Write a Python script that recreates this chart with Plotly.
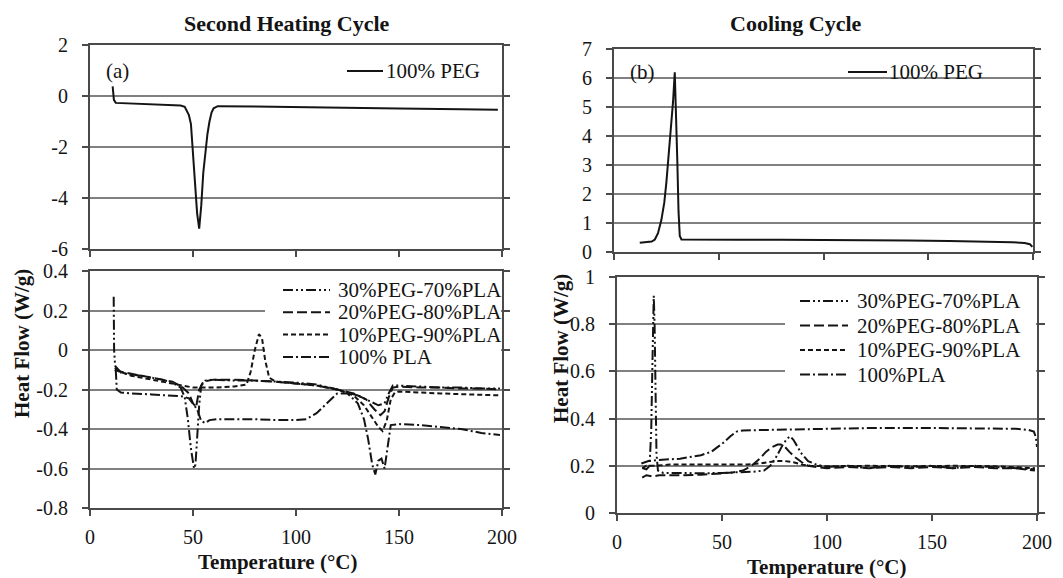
import plotly.graph_objects as go

# ---------------- data ----------------
# Second heating cycle, 100% PEG
heat_peg_x = [11, 11.6, 12.5, 20, 30, 40, 44, 46, 48, 49, 50, 51, 52, 53, 54, 55, 56, 57, 58, 59, 60, 62, 80, 100, 120, 150, 180, 198]
heat_peg_y = [0.38, -0.15, -0.27, -0.29, -0.32, -0.35, -0.37, -0.42, -0.75, -1.1, -2.2, -3.5, -4.6, -5.2, -4.3, -3.0, -2.1, -1.5, -1.0, -0.65, -0.48, -0.4, -0.41, -0.44, -0.46, -0.49, -0.52, -0.54]

# Second heating cycle, blends
h30_x = [11.5, 11.7, 12.2, 15, 20, 25, 30, 35, 40, 44, 46, 47.5, 49, 50.5, 51.2, 52, 53, 54, 56, 60, 70, 80, 90, 100, 110, 120, 130, 136, 140, 143, 145, 147, 150, 160, 170, 180, 190, 199]
h30_y = [0.27, 0.0, -0.08, -0.115, -0.125, -0.13, -0.14, -0.15, -0.165, -0.19, -0.24, -0.35, -0.5, -0.6, -0.58, -0.45, -0.28, -0.18, -0.155, -0.15, -0.155, -0.155, -0.16, -0.165, -0.175, -0.2, -0.23, -0.26, -0.28, -0.27, -0.22, -0.18, -0.18, -0.185, -0.19, -0.19, -0.195, -0.195]

h20_x = [12, 15, 20, 30, 40, 45, 48, 50, 51.5, 53, 55, 60, 70, 80, 90, 100, 110, 120, 128, 134, 138, 141, 143, 145, 147, 150, 160, 170, 180, 190, 199]
h20_y = [-0.09, -0.11, -0.12, -0.14, -0.16, -0.19, -0.22, -0.27, -0.29, -0.2, -0.16, -0.15, -0.15, -0.155, -0.16, -0.17, -0.18, -0.2, -0.22, -0.25, -0.3, -0.33, -0.31, -0.24, -0.19, -0.185, -0.19, -0.19, -0.195, -0.195, -0.2]

h10_x = [12, 20, 30, 40, 45, 50, 55, 60, 70, 76, 78, 80, 82, 83.5, 85, 87, 90, 100, 110, 120, 128, 133, 137, 140, 142, 144, 146, 148, 150, 170, 199]
h10_y = [-0.1, -0.13, -0.15, -0.17, -0.18, -0.19, -0.19, -0.19, -0.185, -0.175, -0.11, 0.0, 0.08, 0.06, -0.05, -0.14, -0.16, -0.17, -0.18, -0.2, -0.23, -0.28, -0.34, -0.39, -0.41, -0.36, -0.25, -0.215, -0.21, -0.22, -0.23]

h100_x = [12.5, 13, 15, 20, 30, 40, 45, 48, 50, 52, 54, 56, 58, 62, 70, 80, 90, 100, 105, 110, 115, 120, 125, 130, 133, 135, 137, 138.5, 140, 141.5, 143, 144.5, 146, 150, 160, 170, 180, 190, 199]
h100_y = [-0.1, -0.2, -0.215, -0.22, -0.225, -0.23, -0.235, -0.245, -0.27, -0.3, -0.36, -0.37, -0.355, -0.35, -0.35, -0.35, -0.355, -0.355, -0.35, -0.32, -0.27, -0.22, -0.22, -0.27, -0.35, -0.45, -0.58, -0.63, -0.56, -0.55, -0.6, -0.5, -0.38, -0.375, -0.38, -0.39, -0.4, -0.42, -0.43]

# Cooling cycle, 100% PEG
cool_peg_x = [12.3, 15, 18, 19.5, 21, 22.6, 24, 25, 26, 26.6, 27.4, 28.2, 29, 29.6, 30.2, 30.8, 31.4, 32.2, 40, 60, 80, 100, 120, 140, 160, 180, 190, 196, 198.5, 199.7]
cool_peg_y = [0.32, 0.33, 0.36, 0.43, 0.65, 1.1, 1.7, 2.4, 3.2, 3.75, 4.5, 5.2, 6.2, 5.0, 3.2, 1.4, 0.55, 0.43, 0.42, 0.42, 0.42, 0.42, 0.41, 0.4, 0.38, 0.36, 0.34, 0.31, 0.27, 0.18]

# Cooling cycle, blends
c30_x = [12, 14, 15.5, 16.3, 16.8, 17.2, 17.5, 17.9, 18.3, 18.8, 19.5, 22, 30, 40, 50, 60, 65, 70, 73, 76, 79, 81, 82.5, 84, 86, 88, 91, 95, 100, 110, 120, 130, 140, 150, 160, 170, 180, 190, 199]
c30_y = [0.19, 0.185, 0.2, 0.35, 0.6, 0.85, 0.92, 0.8, 0.5, 0.25, 0.18, 0.17, 0.17, 0.168, 0.17, 0.172, 0.175, 0.18, 0.2, 0.24, 0.29, 0.315, 0.325, 0.31, 0.28, 0.25, 0.22, 0.205, 0.195, 0.2, 0.19, 0.2, 0.195, 0.2, 0.19, 0.2, 0.195, 0.19, 0.185]

c20_x = [12, 14, 17, 20, 30, 40, 50, 55, 60, 64, 68, 71, 74, 76.5, 78, 80, 82, 85, 88, 91, 95, 100, 110, 120, 130, 140, 150, 160, 170, 180, 190, 199]
c20_y = [0.15, 0.16, 0.155, 0.16, 0.16, 0.162, 0.168, 0.172, 0.18, 0.2, 0.23, 0.26, 0.28, 0.29, 0.29, 0.28, 0.26, 0.235, 0.215, 0.2, 0.195, 0.19, 0.195, 0.19, 0.195, 0.19, 0.195, 0.19, 0.195, 0.19, 0.19, 0.18]

c10_x = [12, 14, 18, 25, 35, 45, 55, 62, 68, 72, 76, 80, 84, 88, 92, 100, 120, 140, 160, 180, 199]
c10_y = [0.19, 0.2, 0.2, 0.205, 0.205, 0.205, 0.205, 0.205, 0.21, 0.215, 0.22, 0.22, 0.215, 0.205, 0.2, 0.198, 0.2, 0.198, 0.2, 0.198, 0.19]

c100_x = [11.6, 15, 20, 30, 40, 45, 48, 51, 54, 57, 60, 70, 80, 100, 120, 150, 180, 190, 196, 198.5, 199.5, 200]
c100_y = [0.21, 0.22, 0.225, 0.23, 0.245, 0.26, 0.28, 0.3, 0.325, 0.345, 0.35, 0.352, 0.355, 0.357, 0.36, 0.36, 0.36, 0.357, 0.352, 0.345, 0.32, 0.28]

# tick labels
x_ticks = [0, 50, 100, 150, 200]
x_ticktext = ["0", "50", "100", "150", "200"]
y_ticks_a = [2, 0, -2, -4, -6]
y_ticktext_a = ["2", "0", "-2", "-4", "-6"]
y_ticks_c = [0.4, 0.2, 0, -0.2, -0.4, -0.6, -0.8]
y_ticktext_c = ["0.4", "0.2", "0", "-0.2", "-0.4", "-0.6", "-0.8"]
y_ticks_b = [0, 1, 2, 3, 4, 5, 6, 7]
y_ticktext_b = ["0", "1", "2", "3", "4", "5", "6", "7"]
y_ticks_d = [0, 0.2, 0.4, 0.6, 0.8, 1]
y_ticktext_d = ["0", "0.2", "0.4", "0.6", "0.8", "1"]

heat_names = ["30%PEG-70%PLA", "20%PEG-80%PLA", "10%PEG-90%PLA", "100% PLA"]
cool_names = ["30%PEG-70%PLA", "20%PEG-80%PLA", "10%PEG-90%PLA", "100%PLA"]
peg_name = "100% PEG"

# ---------------- styles ----------------
W, H = 1063, 578
FONT = "Liberation Serif, Tinos, 'Times New Roman', Times, 'DejaVu Serif', serif"
INK = "#141414"
GRID = "#808080"
AXIS = "#4a4a4a"
DASHES = ["10px,3px,2px,3px,2px,3px", "10px,4px", "5px,3px", "10px,3px,2px,3px"]

# plot-area pixel boxes (left, right, top, bottom)
BOX = {
    "a": (90, 502, 45, 249),
    "c": (90, 502, 271, 508),
    "b": (614, 1033, 49, 252),
    "d": (617, 1037, 277, 513),
}
RANGES = {"a": [-6, 2], "c": [-0.8, 0.4], "b": [0, 7], "d": [0, 1]}

def px_dom(a, b):
    return [a / W, b / W]

def py_dom(top, bottom):
    return [1 - bottom / H, 1 - top / H]

fig = go.Figure()

def line(x, y, name, dash, xa, ya):
    fig.add_trace(go.Scatter(
        x=x, y=y, name=name, mode="lines",
        line=dict(color=INK, width=2.0, dash=dash),
        xaxis=xa, yaxis=ya, showlegend=False,
    ))

line(heat_peg_x, heat_peg_y, peg_name, "solid", "x", "y")
for (xx, yy), nm, ds in zip([(h30_x, h30_y), (h20_x, h20_y), (h10_x, h10_y), (h100_x, h100_y)], heat_names, DASHES):
    line(xx, yy, nm, ds, "x2", "y2")
line(cool_peg_x, cool_peg_y, peg_name, "solid", "x3", "y3")
for (xx, yy), nm, ds in zip([(c30_x, c30_y), (c20_x, c20_y), (c10_x, c10_y), (c100_x, c100_y)], cool_names, DASHES):
    line(xx, yy, nm, ds, "x4", "y4")

tickfont = dict(family=FONT, size=20, color=INK)

def xax(key, anchor, labels):
    l, r, t, b = BOX[key]
    return dict(domain=px_dom(l, r), anchor=anchor, range=[0, 200], tickvals=x_ticks, ticktext=x_ticktext,
                showticklabels=labels, ticks="outside", ticklen=6, tickwidth=1.5, tickcolor=AXIS,
                showline=True, linecolor=AXIS, linewidth=2, mirror=True, showgrid=False,
                zeroline=False, tickfont=tickfont, ticklabelstandoff=4, automargin=False)

def yax(key, anchor, tv, tt):
    l, r, t, b = BOX[key]
    return dict(domain=py_dom(t, b), anchor=anchor, range=RANGES[key], tickvals=tv, ticktext=tt,
                ticks="outside", ticklen=6, tickwidth=1.5, tickcolor=AXIS,
                showline=True, linecolor=AXIS, linewidth=2, mirror="ticks",
                showgrid=True, gridcolor=GRID, gridwidth=1.6, zeroline=False,
                tickfont=tickfont, ticklabelstandoff=10, automargin=False)

fig.update_layout(
    width=W, height=H,
    margin=dict(l=0, r=0, t=0, b=0, pad=0, autoexpand=False),
    paper_bgcolor="white", plot_bgcolor="white",
    showlegend=False,
    xaxis=xax("a", "y", False),
    yaxis=yax("a", "x", y_ticks_a, y_ticktext_a),
    xaxis2=xax("c", "y2", True),
    yaxis2=yax("c", "x2", y_ticks_c, y_ticktext_c),
    xaxis3=xax("b", "y3", False),
    yaxis3=yax("b", "x3", y_ticks_b, y_ticktext_b),
    xaxis4=xax("d", "y4", True),
    yaxis4=yax("d", "x4", y_ticks_d, y_ticktext_d),
)

def ann(text, x, y, size=20, angle=0, bold=False, anchor="center"):
    fig.add_annotation(text=("<b>%s</b>" % text) if bold else text,
                       x=x / W, y=1 - y / H, xref="paper", yref="paper",
                       showarrow=False, textangle=angle,
                       font=dict(family=FONT, size=size, color=INK),
                       xanchor=anchor, yanchor="middle")

# ---- legends (key boxes) ----
def legend_box(x0, y0, x1, y1, key, xa, ya):
    # white key background hiding the gridlines, placed between grid and traces
    l, r, t, b = BOX[key]
    lo, hi = RANGES[key]
    dx = lambda p: (p - l) / (r - l) * 200
    dy = lambda p: hi - (p - t) / (b - t) * (hi - lo)
    fig.add_shape(type="rect", xref=xa, yref=ya,
                  x0=dx(x0), x1=dx(x1), y0=dy(y1), y1=dy(y0), layer="between",
                  line=dict(width=0), fillcolor="white")

def legend_entry(name, dash, sx0, sx1, tx, y, size=21):
    fig.add_shape(type="line", xref="paper", yref="paper",
                  x0=sx0 / W, x1=sx1 / W, y0=1 - y / H, y1=1 - y / H,
                  line=dict(color=INK, width=2, dash=dash), layer="above")
    ann(name, tx, y, size=size, anchor="left")

legend_entry(peg_name, "solid", 347, 383, 384, 71)
legend_entry(peg_name, "solid", 848, 887, 887, 72)

legend_box(265, 279, 501, 367, "c", "x2", "y2")
for i, (nm, ds) in enumerate(zip(heat_names, DASHES)):
    legend_entry(nm, ds, 283, 330, 336, 290 + 22.3 * i, size=21)

legend_box(785, 286, 1036, 388, "d", "x4", "y4")
for i, (nm, ds) in enumerate(zip(cool_names, DASHES)):
    legend_entry(nm, ds, 800, 848, 855, 301 + 24.5 * i)

ann("Second Heating Cycle", 287, 23, size=22, bold=True)
ann("Cooling Cycle", 796, 23, size=22, bold=True)
ann("(a)", 117, 71, size=21)
ann("(b)", 642, 72, size=21)
ann("Heat Flow (W/g)", 22, 344, size=21, angle=-90, bold=True)
ann("Heat Flow (W/g)", 561, 349, size=21, angle=-90, bold=True)
ann("Temperature (°C)", 277, 562, size=21, bold=True)
ann("Temperature (°C)", 826, 567, size=21, bold=True)

fig.write_html("out.html",
               config={"displayModeBar": False},
               post_script="document.body.style.margin='0';document.body.style.padding='0';")
